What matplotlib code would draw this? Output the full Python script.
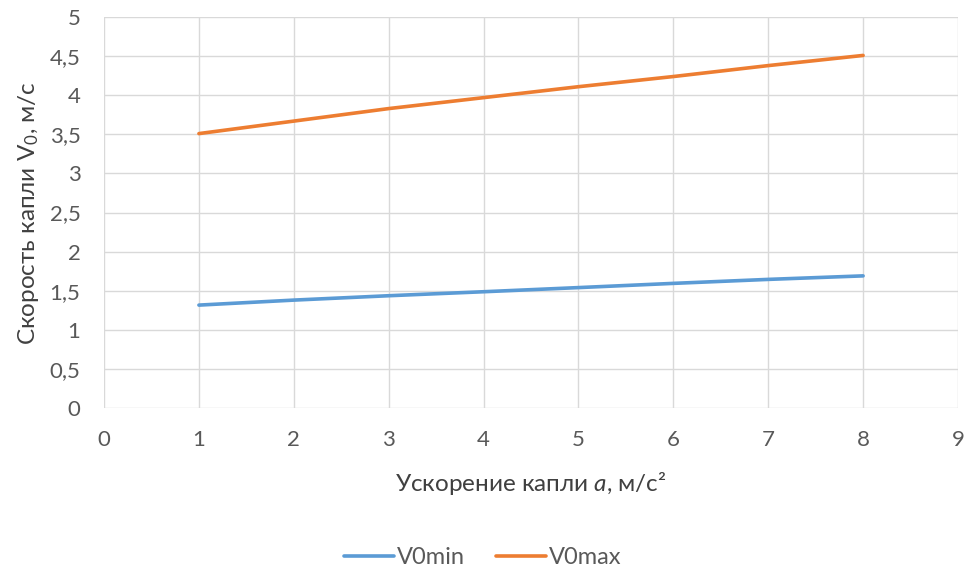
import matplotlib
matplotlib.use("Agg")
import matplotlib.pyplot as plt
from matplotlib.ticker import MultipleLocator, FuncFormatter

x_vals = [1, 2, 3, 4, 5, 6, 7, 8]
v0min = [1.316, 1.38, 1.436, 1.487, 1.54, 1.594, 1.645, 1.69]
v0max = [3.51, 3.67, 3.83, 3.97, 4.11, 4.24, 4.38, 4.51]
series_names = ["V0min", "V0max"]
colors = ["#5B9BD5", "#ED7D31"]

plt.rcParams['font.family'] = ['Lato', 'DejaVu Sans']
plt.rcParams['mathtext.fontset'] = 'custom'
plt.rcParams['mathtext.it'] = 'Lato:italic'
plt.rcParams['mathtext.rm'] = 'Lato'

fig = plt.figure(figsize=(9.66, 5.71), dpi=100)
ax = fig.add_axes([0.1077, 0.2855, 0.8840, 0.6845])

ax.plot(x_vals, v0min, color=colors[0], lw=2.6, label=series_names[0], solid_capstyle='round')
ax.plot(x_vals, v0max, color=colors[1], lw=2.6, label=series_names[1], solid_capstyle='round')

ax.set_xlim(0, 9)
ax.set_ylim(0, 5)
ax.xaxis.set_major_locator(MultipleLocator(1))
ax.yaxis.set_major_locator(MultipleLocator(0.5))
fmt = FuncFormatter(lambda v, p: (f"{v:g}").replace('.', ','))
ax.xaxis.set_major_formatter(fmt)
ax.yaxis.set_major_formatter(fmt)
ax.grid(True, color="#D9D9D9", lw=1.0)
ax.set_axisbelow(True)
for s in ax.spines.values():
    s.set_visible(False)
ax.tick_params(length=0, labelsize=16, labelcolor="#595959")
ax.tick_params(axis='x', pad=16)
ax.tick_params(axis='y', pad=17)

ax.set_xlabel("Ускорение капли $\\mathit{a}$, м/с²", fontsize=17.5, color="#404040", labelpad=14)
ax.set_ylabel("Скорость капли V$_0$, м/с", fontsize=17.5, color="#404040", labelpad=6)

leg = fig.legend(loc='lower center', bbox_to_anchor=(0.5, -0.032), ncol=2, frameon=False,
                 fontsize=17, handlelength=2.1, columnspacing=1.3, handletextpad=0.15)
for t in leg.get_texts():
    t.set_color("#595959")

fig.savefig("out.png", dpi=100)
